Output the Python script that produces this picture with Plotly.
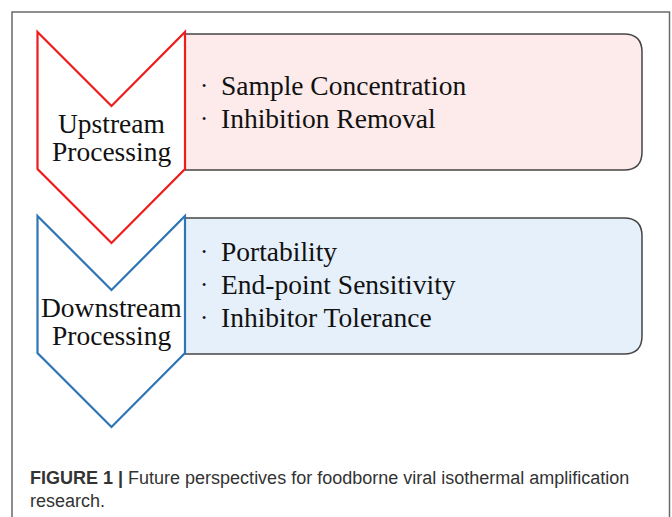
import plotly.graph_objects as go

# ---- content ----
stage_labels = [["Upstream", "Processing"], ["Downstream", "Processing"]]
stage_colors = ["#ee1c1c", "#2e75b6"]
box_fills = ["#fdeaea", "#e6f0fb"]
bullets = [
    ["Sample Concentration", "Inhibition Removal"],
    ["Portability", "End-point Sensitivity", "Inhibitor Tolerance"],
]
caption_bold = "FIGURE 1 |"
caption_text = " Future perspectives for foodborne viral isothermal amplification<br>research."

W, H = 672, 517

# ---- geometry (pixel space) ----
chev_left, chev_right, chev_mid = 37.5, 185, 111.5
stage_top = [32, 216]
side_len = 137      # vertical side length
notch = 74          # depth of the V notch / tip
box_right = 642
radius = 18
bullet_first = [85, 251]
bullet_gap = 33
label_lines = [[123, 151], [307, 335]]

serif = "Liberation Serif, Times New Roman, serif"
shapes = []
annotations = []

# outer frame
shapes.append(dict(type="rect", x0=12, y0=12, x1=669.5, y1=560,
                   line=dict(color="#6a6a6a", width=1.5), fillcolor="rgba(0,0,0,0)", layer="below"))

for i, lab in enumerate(stage_labels):
    t = stage_top[i]
    b = t + side_len
    r = radius
    box = (f"M {chev_right},{t+2} L {box_right-r},{t+2} Q {box_right},{t+2} {box_right},{t+2+r} "
           f"L {box_right},{b+1-r} Q {box_right},{b+1} {box_right-r},{b+1} L {chev_right},{b+1} Z")
    shapes.append(dict(type="path", path=box, fillcolor=box_fills[i],
                       line=dict(color="#454545", width=1.5)))
    chev = (f"M {chev_left},{t} L {chev_mid},{t+notch} L {chev_right},{t} L {chev_right},{b} "
            f"L {chev_mid},{b+notch} L {chev_left},{b} Z")
    shapes.append(dict(type="path", path=chev, fillcolor="white",
                       line=dict(color=stage_colors[i], width=2.2)))
    for k, line in enumerate(lab):
        annotations.append(dict(x=chev_mid, y=label_lines[i][k], xref="x", yref="y", text=line,
                                showarrow=False, xanchor="center", yanchor="middle",
                                font=dict(family=serif, size=27.5, color="#111")))
    for j, txt in enumerate(bullets[i]):
        y = bullet_first[i] + j * bullet_gap
        annotations.append(dict(x=200, y=y + 1, xref="x", yref="y", text="\u2022", showarrow=False,
                                xanchor="left", yanchor="middle",
                                font=dict(family=serif, size=12, color="#111")))
        annotations.append(dict(x=219, y=y, xref="x", yref="y", text=txt, showarrow=False,
                                xanchor="left", yanchor="middle",
                                font=dict(family=serif, size=27.5, color="#111")))

annotations.append(dict(x=28, y=489, xref="x", yref="y",
                        text=f"<b>{caption_bold}</b>{caption_text}", showarrow=False,
                        xanchor="left", yanchor="middle", align="left",
                        font=dict(family="Liberation Sans Narrow, Arial Narrow, Liberation Sans, sans-serif",
                                  size=18, color="#333")))

fig = go.Figure()
fig.update_layout(
    width=W, height=H, margin=dict(l=0, r=0, t=0, b=0),
    paper_bgcolor="white", plot_bgcolor="white",
    xaxis=dict(range=[0, W], visible=False, fixedrange=True),
    yaxis=dict(range=[H, 0], visible=False, fixedrange=True),
    shapes=shapes, annotations=annotations, showlegend=False,
)
fig.write_html("out.html", config={"displayModeBar": False},
               post_script="document.body.style.margin='0px';document.body.style.overflow='hidden';")
